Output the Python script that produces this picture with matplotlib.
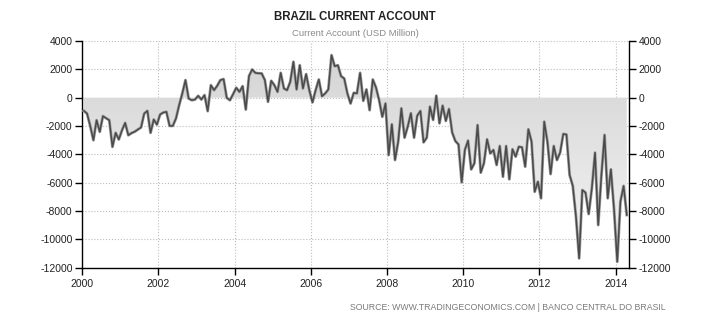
import numpy as np
import matplotlib
matplotlib.use("Agg")
import matplotlib.pyplot as plt
from matplotlib.colors import LinearSegmentedColormap

plt.rcParams['font.family'] = ['Liberation Sans', 'DejaVu Sans']

# monthly current account, USD million (Jan 2000 - Apr 2014)
ca_2000 = [-930, -1120, -2000, -3000, -1590, -2410, -1300, -1450, -1590, -3470, -2480, -2950]
ca_2001 = [-2300, -1780, -2650, -2500, -2400, -2250, -2100, -1120, -930, -2480, -1540, -1900]
ca_2002 = [-1190, -1050, -1000, -1990, -1990, -1470, -530, 300, 1240, -60, -180, -130]
ca_2003 = [130, -130, 180, -950, 880, 530, 840, 1240, 1310, -10, -180, 250]
ca_2004 = [700, 410, 810, -840, 1520, 1990, 1750, 1720, 1710, 1240, -290, 1190]
ca_2005 = [880, 410, 1750, 650, 530, 1120, 2530, 580, 2290, 650, 1660, 530]
ca_2006 = [-330, 530, 1280, 100, 300, 580, 3000, 2220, 2290, 1520, 1350, 300]
ca_2007 = [-410, 340, 300, 1750, -220, 580, -880, 1280, 720, -180, -1350, -410]
ca_2008 = [-4050, -1880, -4400, -3100, -750, -2820, -2050, -1100, -2820, -1270, -940, -3150]
ca_2009 = [-2820, -630, -1570, 140, -1810, -560, -1640, -800, -2450, -3060, -3300, -5970]
ca_2010 = [-3690, -3030, -5060, -4630, -1930, -5290, -4630, -2940, -3930, -3690, -4750, -3410]
ca_2011 = [-5580, -3410, -5760, -3640, -4160, -3460, -3500, -4870, -2230, -3100, -6640, -5930]
ca_2012 = [-7100, -1690, -3100, -5390, -3410, -4400, -3880, -2560, -2600, -5460, -6230, -8400]
ca_2013 = [-11340, -6520, -6700, -8210, -6400, -3880, -8990, -5500, -2630, -7100, -5060, -7930]
ca_2014 = [-11580, -7340, -6230, -8280]

years = [2000, 2002, 2004, 2006, 2008, 2010, 2012, 2014]
y_ticks = [4000, 2000, 0, -2000, -4000, -6000, -8000, -10000, -12000]

vals = np.array(ca_2000 + ca_2001 + ca_2002 + ca_2003 + ca_2004 + ca_2005 + ca_2006
                + ca_2007 + ca_2008 + ca_2009 + ca_2010 + ca_2011 + ca_2012 + ca_2013
                + ca_2014, dtype=float)
dates = 2000 + (np.arange(len(vals)) + 0.5) / 12

X0, X1, Y0, Y1 = 2000, 2014.35, -12000, 4000

fig = plt.figure(figsize=(7.1, 3.25), dpi=100)
ax = fig.add_axes([82.3 / 710, 1 - 267.7 / 325, (629 - 82.3) / 710, (267.7 - 41) / 325])

# gradient fill between line and zero
poly = ax.fill_between(dates, vals, 0, facecolor='none', edgecolor='none')
cmap = LinearSegmentedColormap.from_list('g', ['#d2d2d2', '#f6f6f6'])
grad = np.linspace(0, 1, 256).reshape(-1, 1)
im = ax.imshow(grad, extent=[X0, X1, Y0, Y1], aspect='auto', cmap=cmap,
               origin='upper', zorder=1, interpolation='bilinear')
im.set_clip_path(poly.get_paths()[0], transform=ax.transData)

ax.plot(dates, vals, color='#a0a0a0', lw=2.1, zorder=3, solid_joinstyle='round')
ax.plot(dates, vals, color='#4a4a4a', lw=1.1, zorder=4, solid_joinstyle='round')

ax.set_xlim(X0, X1)
ax.set_ylim(Y0, Y1)
ax.set_xticks(years)
ax.set_xticklabels([str(y) for y in years])
ax.set_yticks(y_ticks)
ax.set_yticklabels([str(v) for v in y_ticks])
ax.grid(True, ls=':', color='#bdbdbd', lw=0.8, zorder=0)
ax.set_axisbelow(True)

for s in ['left', 'right', 'bottom']:
    ax.spines[s].set_color('black')
    ax.spines[s].set_linewidth(1.0)
ax.spines['top'].set_visible(False)
ax.tick_params(axis='both', direction='out', length=5, width=1, labelsize=7.5,
               colors='black', labelcolor='#222222', pad=2)
ax.tick_params(axis='y', left=True, right=True, labelleft=True, labelright=True)
ax.tick_params(axis='x', pad=3)

fig.text(0.5, 1 - 17 / 325, 'BRAZIL CURRENT ACCOUNT', ha='center', va='center',
         fontsize=8.3, fontweight='bold', color='#222222')
fig.text(0.5, 1 - 33 / 325, 'Current Account (USD Million)', ha='center', va='center',
         fontsize=6.8, color='#8a8a8a')
fig.text(666 / 710, 1 - 307 / 325, 'SOURCE: WWW.TRADINGECONOMICS.COM | BANCO CENTRAL DO BRASIL',
         ha='right', va='center', fontsize=6.3, color='#7a7a7a')

fig.savefig('out.png', dpi=100)
